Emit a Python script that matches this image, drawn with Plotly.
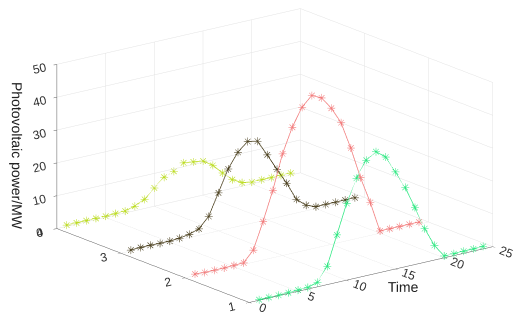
import plotly.graph_objects as go

time = list(range(1, 25))
scenario_levels = [1, 2, 3, 4]

power_s1 = [0.2, 0.2, 0.2, 0.3, 0.4, 0.5, 1.4, 5.6, 14.5, 23.4, 30.4, 35.2,
            37.1, 34.8, 29.6, 24.2, 17.4, 10.3, 4.5, 0.6, 0.6, 0.7, 0.7, 0.8]
power_s2 = [0.5, 0.3, 0.3, 0.3, 0.4, 0.5, 3.7, 11.7, 20.5, 31.0, 38.4, 43.8,
            46.7, 45.3, 41.5, 36.4, 28.0, 18.3, 10.1, 0.7, 0.7, 0.7, 0.7, 0.7]
power_s3 = [0.3, 0.4, 0.4, 0.3, 0.3, 0.5, 1.0, 2.0, 5.1, 11.6, 18.2, 22.6,
            25.2, 24.6, 19.8, 14.7, 9.8, 4.2, 1.7, 0.6, 0.6, 0.6, 0.6, 0.6]
power_s4 = [0.4, 0.4, 0.4, 0.4, 0.4, 0.5, 0.6, 1.4, 2.8, 5.6, 8.2, 9.3,
            11.2, 10.8, 10.4, 8.4, 5.4, 2.7, 1.1, 0.6, 0.6, 0.6, 0.6, 0.6]

series = [power_s1, power_s2, power_s3, power_s4]
colors = ["#2ee882", "#f27c7c", "#4d4221", "#bcdc22"]

x_ticks = [0, 5, 10, 15, 20, 25]
y_ticks = [1, 2, 3, 4]
z_ticks = [0, 10, 20, 30, 40, 50]

fig = go.Figure()
for lvl, vals, col in zip(scenario_levels, series, colors):
    fig.add_trace(go.Scatter3d(
        x=time, y=[lvl] * len(time), z=vals,
        mode="lines+text", text=["✳"] * len(time),
        textposition="middle center",
        textfont=dict(color=col, size=11, family="DejaVu Sans"),
        line=dict(color=col, width=1.5),
        showlegend=False, hoverinfo="skip"))

axis_common = dict(showbackground=False, gridcolor="#e3e3e3", gridwidth=1,
                   showline=True, linecolor="#5a5a5a", linewidth=1,
                   zeroline=False, showspikes=False, ticks="outside",
                   ticklen=4, tickcolor="#5a5a5a",
                   tickfont=dict(family="Liberation Sans", size=12, color="#333333"))

d = (-0.5837, -0.7559, 0.2967)
k = 4.0
cen = (-0.0412, 0.0005, -0.08)
fig.update_layout(
    width=523, height=322,
    margin=dict(l=0, r=0, t=0, b=0),
    paper_bgcolor="white",
    font=dict(family="Liberation Sans", size=12, color="#222222"),
    scene=dict(
        domain=dict(x=[0, 1], y=[0, 1]),
        xaxis=dict(range=[0, 25], tickvals=x_ticks, title=dict(text="Time"), **axis_common),
        yaxis=dict(range=[1, 4], tickvals=y_ticks, title=dict(text=""), **axis_common),
        zaxis=dict(range=[0, 50], tickvals=z_ticks, title=dict(text="Photovoltaic power/MW"), **axis_common),
        aspectmode="manual",
        aspectratio=dict(x=1.911, y=1.955, z=1.068),
        camera=dict(eye=dict(x=cen[0] + d[0] * k, y=cen[1] + d[1] * k, z=cen[2] + d[2] * k),
                    up=dict(x=0, y=0, z=1),
                    center=dict(x=cen[0], y=cen[1], z=cen[2]),
                    projection=dict(type="orthographic")),
        bgcolor="white",
    ),
)
fig.write_html("out.html")
